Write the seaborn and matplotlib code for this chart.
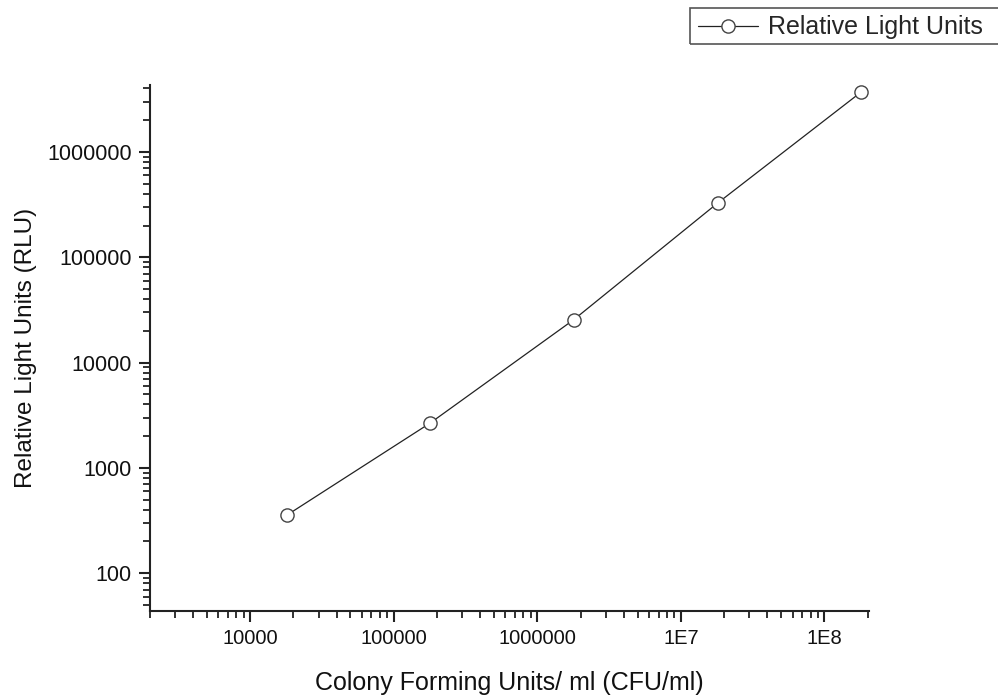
import matplotlib
matplotlib.use("Agg")
import matplotlib.pyplot as plt
import matplotlib.ticker as mticker
from matplotlib.patches import Rectangle
import seaborn as sns
import numpy as np
import pandas as pd

# ---- data ----
cfu_per_ml = [18000, 180000, 1800000, 18000000, 180000000]
rlu = [355, 2670, 25600, 326000, 3700000]
series_name = "Relative Light Units"

x_tick_values = [1e4, 1e5, 1e6, 1e7, 1e8]
x_tick_labels = ["10000", "100000", "1000000", "1E7", "1E8"]
y_tick_values = [1e2, 1e3, 1e4, 1e5, 1e6]
y_tick_labels = ["100", "1000", "10000", "100000", "1000000"]

x_label = "Colony Forming Units/ ml (CFU/ml)"
y_label = "Relative Light Units (RLU)"

df = pd.DataFrame({"cfu": cfu_per_ml, "rlu": rlu, "series": series_name})

sns.set_theme(style="ticks")
plt.rcParams["font.family"] = ["Liberation Sans", "DejaVu Sans"]

W, H = 998, 698
fig = plt.figure(figsize=(W / 100, H / 100), dpi=100)
ax = fig.add_axes([0.150, 0.125, 0.721, 0.753])

sns.lineplot(data=df, x="cfu", y="rlu", hue="series", palette=["#222222"],
             marker="o", markersize=9.5, markerfacecolor="white",
             markeredgecolor="#444444", markeredgewidth=1.0,
             linewidth=0.9, ax=ax, legend=False)

ax.set_xscale("log")
ax.set_yscale("log")
ax.set_xlim(2000, 2.05e8)
ax.set_ylim(44, 4.3e6)

ax.xaxis.set_major_locator(mticker.FixedLocator(x_tick_values))
ax.xaxis.set_major_formatter(mticker.FixedFormatter(x_tick_labels))
ax.yaxis.set_major_locator(mticker.FixedLocator(y_tick_values))
ax.yaxis.set_major_formatter(mticker.FixedFormatter(y_tick_labels))
ax.xaxis.set_minor_locator(mticker.LogLocator(base=10, subs=np.arange(2, 10), numticks=50))
ax.yaxis.set_minor_locator(mticker.LogLocator(base=10, subs=np.arange(2, 10), numticks=50))
ax.xaxis.set_minor_formatter(mticker.NullFormatter())
ax.yaxis.set_minor_formatter(mticker.NullFormatter())

ax.tick_params(axis="both", which="major", direction="out", length=8, width=1.5,
               labelsize=14.5, color="#222222", labelcolor="#111111", pad=5)
ax.tick_params(axis="y", which="major", labelsize=15.5)
ax.tick_params(axis="both", which="minor", direction="out", length=5, width=1.3,
               color="#222222")

sns.despine(ax=ax)
for s in ["left", "bottom"]:
    ax.spines[s].set_linewidth(1.5)
    ax.spines[s].set_color("#222222")

ax.set_xlabel(x_label, fontsize=18, labelpad=17, color="#111111")
ax.set_ylabel(y_label, fontsize=17.5, labelpad=7, color="#111111")

# legend (frame drawn separately so it runs off the right edge like the reference)
handle = plt.Line2D([], [], color="#222222", linewidth=0.9, marker="o",
                    markersize=9.5, markerfacecolor="white",
                    markeredgecolor="#444444", markeredgewidth=1.0)
leg = fig.legend([handle], [series_name], loc="upper left",
                 bbox_to_anchor=(692 / W, 1 - 9 / H), fontsize=18,
                 frameon=False, handlelength=2.4,
                 borderpad=0.25, handletextpad=0.4, borderaxespad=0)
fig.patches.append(Rectangle((690 / W, 1 - 44 / H), 320 / W, 36 / H,
                             transform=fig.transFigure, fill=False,
                             edgecolor="#555555", linewidth=1.2))

fig.savefig("out.png", dpi=100)
